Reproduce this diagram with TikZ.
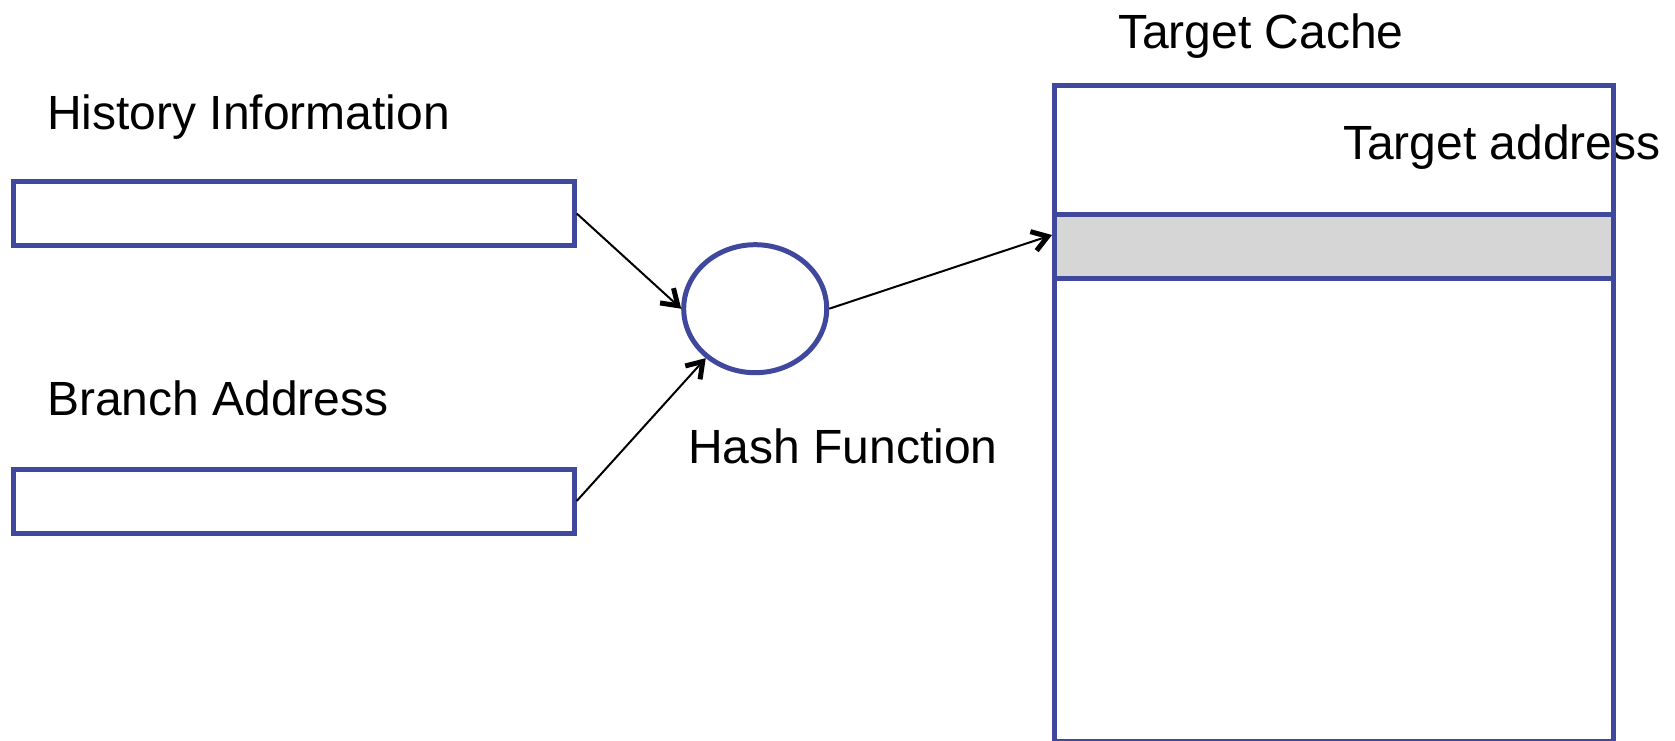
\documentclass[tikz,border=0pt]{standalone}
\usepackage{fontspec}
\setmainfont{Liberation Sans}
\usetikzlibrary{arrows.meta,shapes.geometric}
\definecolor{boxblue}{RGB}{64,72,158}
\definecolor{rowgrey}{RGB}{214,214,214}
\begin{document}
\begin{tikzpicture}[x=1pt,y=-1pt,
  lbl/.style={anchor=base west,inner sep=0pt,font=\fontsize{48}{57}\selectfont},
  regbox/.style={draw=boxblue,line width=5pt,minimum width=561pt,minimum height=64pt,inner sep=0pt,anchor=north west},
  hashnode/.style={ellipse,draw=boxblue,line width=5pt,minimum width=143pt,minimum height=128pt,inner sep=0pt},
  arr/.style={line width=2pt,-{Straight Barb[length=15pt,width=20pt,line width=5pt]}}]
\useasboundingbox (0,0) rectangle (1675,741);
% registers
\node[regbox] (hist) at (10.7,179) {};
\node[regbox] (branch) at (10.7,466.5) {};
\node[hashnode] (hash) at (755.2,308.7) {};
\coordinate (cin) at (1052,235);
% arrows (drawn beneath the cache)
\draw[arr] (hist.east) -- (hash.west);
\draw[arr] (branch.east) -- (hash.225);
\draw[arr] (hash.east) -- (cin);
% labels
\node[lbl] (thist) at (47,129) {History Information};
\node[lbl] (tbranch) at (47,415.5) {Branch Address};
\node[lbl] (thash) at (688,463.6) {Hash Function};
\node[lbl] (tcache) at (1118,49) {Target Cache};
\node[lbl] (taddr) at (1343,159) {Target address};
% cache
\node[draw=boxblue,line width=5pt,minimum width=559pt,minimum height=655pt,inner sep=0pt,anchor=north west] (cache) at (1052,83.5) {};
\node[draw=boxblue,fill=rowgrey,line width=5pt,minimum width=559pt,minimum height=64.1pt,inner sep=0pt,anchor=north west] (row) at (1052,211.5) {};
\end{tikzpicture}
\end{document}
